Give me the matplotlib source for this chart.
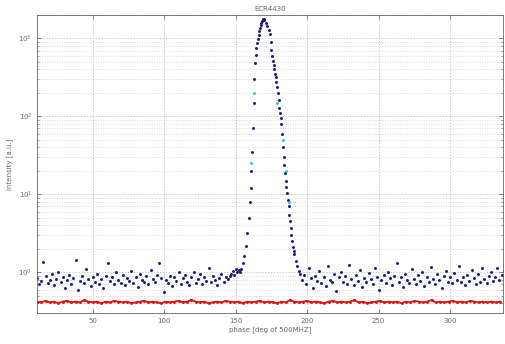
import numpy as np
import matplotlib
matplotlib.use("Agg")
import matplotlib.pyplot as plt
from matplotlib.ticker import LogLocator, NullFormatter

title_text = "ECR4430"
x_label = "phase [deg of 500MHZ]"
y_label = "intensity [a.u.]"
x_ticks = [50, 100, 150, 200, 250, 300]
y_ticks = [1, 10, 100, 1000]

# blue baseline, left of the peak (x = 11 ... 146, step 1.5)
base_left_y = [
    0.85, 0.70, 0.78, 1.35, 0.90, 0.72, 0.80, 0.95, 0.68, 0.82,
    1.00, 0.75, 0.88, 0.62, 0.80, 0.93, 0.70, 0.85, 1.45, 0.60,
    0.78, 0.90, 0.73, 1.10, 0.82, 0.66, 0.88, 0.76, 0.95, 0.70,
    0.83, 0.62, 0.90, 1.33, 0.78, 0.86, 0.70, 1.00, 0.80, 0.73,
    0.92, 0.68, 0.85, 0.77, 1.05, 0.72, 0.88, 0.64, 0.95, 0.80,
    0.74, 0.90, 0.70, 1.08, 0.82, 0.76, 0.93, 1.33, 0.85, 0.55,
    0.80, 0.72, 0.90, 0.66, 0.86, 0.78, 1.00, 0.70, 0.84, 0.92,
    0.75, 0.68, 0.88, 1.02, 0.73, 0.82, 0.95, 0.70, 0.87, 0.78,
    1.12, 0.74, 0.90, 0.80, 0.68, 0.85, 0.96, 0.76, 0.88, 0.82, 0.90]
base_left_x = [11 + 1.5 * i for i in range(len(base_left_y))]

# blue peak region
peak_x = [147, 148, 149, 150, 151, 152,
          153, 154, 155, 156, 157, 158, 159, 160, 160.5, 161, 161.5, 162,
          162.5, 163, 163.5, 164, 164.5, 165, 165.5, 166, 166.5, 167, 167.5,
          168, 168.5, 169, 169.5, 170, 171, 172, 173, 174, 174.5, 175, 175.5,
          176, 176.5, 177, 177.5, 178, 178.5, 179, 179.5, 180, 180.5, 181,
          181.5, 182, 182.5, 183, 183.5, 184, 184.5, 185, 185.5, 186, 186.5,
          187, 187.5, 188, 188.5, 189, 189.5, 190, 190.5, 191, 192, 193, 194, 195]
peak_y = [0.95, 1.05, 0.92, 1.10, 1.00, 1.08,
          1.00, 1.10, 1.30, 1.60, 2.20, 3.20, 5.0, 8.0, 12, 20, 35, 70,
          150, 300, 480, 620, 750, 880, 980, 1100, 1250, 1380, 1500,
          1600, 1700, 1780, 1800, 1750, 1600, 1450, 1300, 1150, 900, 720, 600,
          520, 450, 400, 350, 320, 280, 240, 200, 160, 130, 110,
          95, 80, 60, 40, 30, 24, 19, 15, 12.5, 10.5, 8.5,
          7.0, 5.5, 4.5, 3.7, 3.0, 2.5, 2.1, 1.9, 1.7, 1.4, 1.2, 1.05, 0.95]

# blue baseline, right of the peak (x = 196.5 ... 337, step 1.5)
base_right_y = [
    0.80, 0.92, 0.70, 1.15, 0.85, 0.62, 0.90, 0.78, 1.05, 0.72,
    0.88, 0.66, 1.20, 0.80, 0.74, 0.95, 0.58, 0.86, 1.00, 0.76,
    0.90, 0.70, 1.25, 0.82, 0.68, 0.93, 0.78, 1.08, 0.64, 0.85,
    0.75, 0.98, 0.82, 0.70, 1.15, 0.88, 0.60, 0.80, 0.92, 0.73,
    1.02, 0.84, 0.68, 0.90, 1.30, 0.76, 0.86, 0.65, 0.95, 0.80,
    0.72, 1.10, 0.83, 0.70, 0.92, 0.78, 1.00, 0.66, 0.88, 0.75,
    1.18, 0.82, 0.70, 0.94, 0.79, 0.62, 0.90, 1.05, 0.76, 0.86,
    0.72, 0.98, 0.80, 1.22, 0.74, 0.88, 0.68, 0.92, 0.78, 1.06,
    0.84, 0.70, 0.95, 0.76, 1.12, 0.82, 0.72, 0.90, 1.00, 0.78,
    0.86, 1.15, 0.80, 0.92, 1.05]
base_right_x = [196.5 + 1.5 * i for i in range(len(base_right_y))]

# red reference line (x = 11 ... 337, step 3)
red_y = [
    0.42, 0.41, 0.43, 0.41, 0.42, 0.40, 0.42, 0.43, 0.41, 0.42,
    0.41, 0.44, 0.42, 0.41, 0.42, 0.40, 0.42, 0.41, 0.43, 0.42,
    0.41, 0.42, 0.40, 0.41, 0.42, 0.43, 0.41, 0.42, 0.41, 0.40,
    0.42, 0.41, 0.42, 0.43, 0.41, 0.42, 0.44, 0.42, 0.41, 0.42,
    0.40, 0.41, 0.42, 0.41, 0.43, 0.42, 0.41, 0.42, 0.40, 0.42,
    0.41, 0.42, 0.43, 0.41, 0.42, 0.41, 0.40, 0.42, 0.41, 0.44,
    0.42, 0.41, 0.42, 0.43, 0.41, 0.42, 0.41, 0.40, 0.42, 0.43,
    0.41, 0.42, 0.41, 0.42, 0.44, 0.41, 0.42, 0.40, 0.41, 0.42,
    0.43, 0.41, 0.42, 0.41, 0.42, 0.40, 0.42, 0.41, 0.43, 0.42,
    0.41, 0.42, 0.44, 0.41, 0.42, 0.41, 0.42, 0.43, 0.41, 0.42,
    0.41, 0.43, 0.42, 0.41, 0.42, 0.41, 0.42, 0.41, 0.42]
red_x = [11 + 3 * i for i in range(len(red_y))]

# lighter points on the flanks
cyan_x = [161, 163, 179, 183, 185, 187]
cyan_y = [25, 200, 150, 50, 20, 8]

fig = plt.figure(figsize=(5.06, 3.44), dpi=100)
ax = fig.add_axes([37 / 506, (344 - 313) / 344, (503 - 37) / 506, (313 - 15) / 344])

ax.set_yscale("log")
ax.set_xlim(11, 337)
ax.set_ylim(0.3, 2000)

ax.grid(True, which="major", axis="both", color="#b8b8b8", linestyle=(0, (1.5, 2)), linewidth=0.6)
ax.grid(True, which="minor", axis="y", color="#cccccc", linestyle=(0, (1.5, 2)), linewidth=0.5)
ax.set_axisbelow(True)

ax.plot(red_x, red_y, color="#e01010", linewidth=1.3, marker=".", markersize=2.2)
ax.plot(base_left_x, base_left_y, linestyle="none", marker=".", markersize=2.3, color="#1c1c80")
ax.plot(peak_x, peak_y, linestyle="none", marker=".", markersize=2.3, color="#1c1c80")
ax.plot(base_right_x, base_right_y, linestyle="none", marker=".", markersize=2.3, color="#1c1c80")
ax.plot(cyan_x, cyan_y, linestyle="none", marker=".", markersize=2.3, color="#40c0c0")

ax.set_xticks(x_ticks)
ax.set_xticklabels([str(t) for t in x_ticks])
ax.set_yticks(y_ticks)
ax.yaxis.set_minor_locator(LogLocator(base=10, subs=np.arange(2, 10)))
ax.yaxis.set_minor_formatter(NullFormatter())

ax.tick_params(axis="both", which="both", direction="in", top=True, right=True,
               labelsize=5, colors="#555555", labelcolor="#666666")
ax.tick_params(axis="both", which="major", length=3, width=0.5)
ax.tick_params(axis="both", which="minor", length=1.5, width=0.4)
for s in ax.spines.values():
    s.set_color("#666666")
    s.set_linewidth(0.6)

ax.set_title(title_text, fontsize=5, color="#666666", pad=3)
ax.set_xlabel(x_label, fontsize=5, color="#666666", labelpad=2)
ax.set_ylabel(y_label, fontsize=5, color="#666666", labelpad=4)

fig.savefig("out.png", dpi=100)
